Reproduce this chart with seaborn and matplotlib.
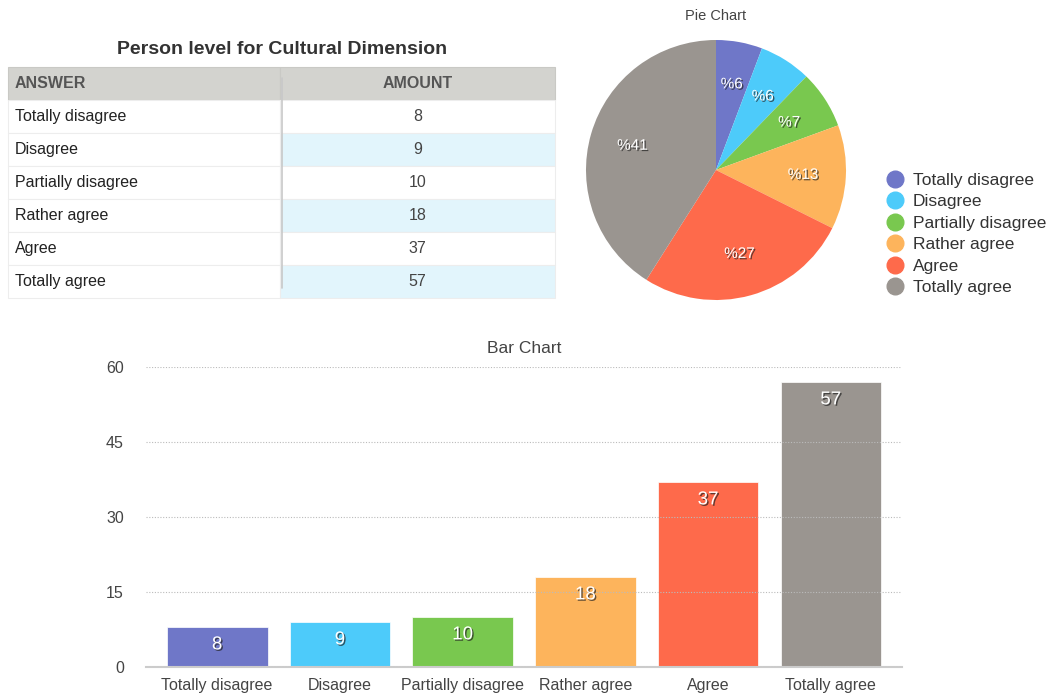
import numpy as np
import pandas as pd
import seaborn as sns
import matplotlib
matplotlib.use("Agg")
import matplotlib.pyplot as plt
import matplotlib.patheffects as pe

answers = ["Totally disagree", "Disagree", "Partially disagree",
           "Rather agree", "Agree", "Totally agree"]
amounts = [8, 9, 10, 18, 37, 57]
colors = ["#6F77C8", "#4DCBFA", "#79C84F", "#FDB45C", "#FE6A4B", "#9A9590"]
yticks = [0, 15, 30, 45, 60]

sns.set_theme(style="white")
plt.rcParams['font.family'] = ['Liberation Sans', 'DejaVu Sans']

df = pd.DataFrame({"answer": answers, "amount": amounts})
shadow = [pe.withSimplePatchShadow(offset=(1, -1), shadow_rgbFace="#222222", alpha=0.7)]

fig = plt.figure(figsize=(10.56, 6.94), dpi=100)

# ---- table (top left)
ax_t = fig.add_axes([8 / 1056, 1 - 298 / 694, 547 / 1056, 231 / 694])
ax_t.axis("off")
cell_text = [[a, str(v)] for a, v in zip(answers, amounts)]
cell_colours = [["white", "#E2F5FC" if i % 2 else "white"] for i in range(len(answers))]
tbl = ax_t.table(cellText=cell_text, colLabels=["ANSWER", "AMOUNT"],
                 cellColours=cell_colours, colWidths=[0.498, 0.502],
                 bbox=[0, 0, 1, 1])
tbl.auto_set_font_size(False)
for (r, c), cell in tbl.get_celld().items():
    cell.set_edgecolor("#EDEDED")
    cell.set_linewidth(0.8)
    txt = cell.get_text()
    txt.set_fontsize(11.5)
    txt.set_color("#222222")
    if c == 0:
        txt.set_ha("left")
        cell.PAD = 0.026
    else:
        txt.set_ha("center")
        txt.set_color("#444444")
    if r == 0:
        cell.set_facecolor("#D3D3CF")
        cell.set_edgecolor("#C9C9C5")
        txt.set_fontweight("bold")
        txt.set_color("#555555")
# column separator
ax_t.plot([0.498, 0.498], [0, 6 / 7], color="#C8C8C8", lw=1.2)
fig.text(282 / 1056, 1 - 50 / 694, "Person level for Cultural Dimension",
         ha="center", va="center", fontsize=14, fontweight="bold", color="#333333")

# ---- pie (top right)
ax_p = fig.add_axes([586 / 1056, 1 - 300 / 694, 260 / 1056, 260 / 694])
wedges, _, autotexts = ax_p.pie(amounts, colors=colors, startangle=90, counterclock=False,
                                autopct=lambda p: "%" + str(int(round(p))),
                                pctdistance=0.67, wedgeprops=dict(linewidth=0))
for t in autotexts:
    t.set_color("white")
    t.set_fontsize(11)
    t.set_path_effects(shadow)
ax_p.set_xlim(-1, 1)
ax_p.set_ylim(-1, 1)
ax_p.set_aspect("equal")
fig.text(716 / 1056, 1 - 16 / 694, "Pie Chart", ha="center", va="center",
         fontsize=10.5, color="#444444")
handles = [plt.Line2D([], [], marker="o", ls="", markersize=12, markerfacecolor=c,
                      markeredgecolor=c) for c in colors]
fig.legend(handles, answers, loc="center left", bbox_to_anchor=(878 / 1056, 1 - 234 / 694),
           frameon=False, fontsize=12.5, handletextpad=0.4, labelspacing=0.36,
           labelcolor="#333333", borderaxespad=0, handlelength=1.2)

# ---- bar chart (bottom)
ax_b = fig.add_axes([146 / 1056, 1 - 667 / 694, 756 / 1056, 300 / 694])
sns.barplot(data=df, x="answer", y="amount", hue="answer", palette=colors,
            width=0.82, legend=False, ax=ax_b, saturation=1)
for b in ax_b.patches:
    b.set_edgecolor("white")
    b.set_linewidth(0.5)
ax_b.set_ylim(0, 60)
ax_b.set_xlim(-0.58, 5.58)
ax_b.set_yticks(yticks)
ax_b.yaxis.grid(True, linestyle=(0, (1, 1.5)), color="#BBBBBB", linewidth=0.8)
ax_b.set_axisbelow(False)
for s in ["top", "right", "left"]:
    ax_b.spines[s].set_visible(False)
ax_b.spines["bottom"].set_color("#CCCCCC")
ax_b.spines["bottom"].set_linewidth(1.5)
ax_b.set_xlabel("")
ax_b.set_ylabel("")
ax_b.tick_params(axis="both", length=0, labelsize=11.5, colors="#444444")
ax_b.tick_params(axis="y", pad=16)
ax_b.tick_params(axis="x", pad=8)
for cont in ax_b.containers:
    labels = ax_b.bar_label(cont, padding=-19, color="white", fontsize=13.5)
    for t in labels:
        t.set_path_effects(shadow)
ax_b.set_title("Bar Chart", fontsize=12.5, color="#444444", pad=10)

fig.savefig("out.png", dpi=100)
